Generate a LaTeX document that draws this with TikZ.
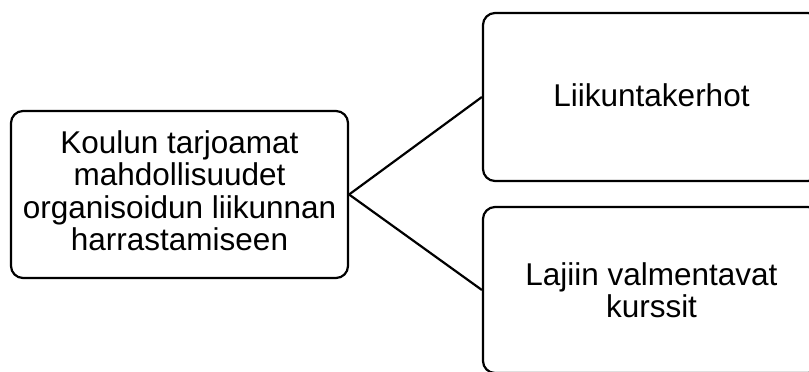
\documentclass[tikz,border=0pt]{standalone}
\usepackage{fontspec}
\setmainfont{Liberation Sans}
\begin{document}
\begin{tikzpicture}[x=1pt, y=-1pt,
  box/.style={draw=black, line width=2.2pt, rounded corners=12pt, fill=white,
    align=center, inner sep=0pt,
    font=\fontsize{31.5pt}{32.3pt}\selectfont},
  link/.style={draw=black, line width=2.2pt}]
  \useasboundingbox (0,0) rectangle (809,372);
  \clip (0,0) rectangle (809,372);
  \fill[white] (0,0) rectangle (809,372);

  % source box on the left
  \node[box, minimum width=337pt, minimum height=167pt, text depth=8pt]
    (school) at (179.5,194.5)
    {Koulun tarjoamat\\mahdollisuudet\\organisoidun liikunnan\\harrastamiseen};

  % two option boxes on the right (running past the right edge)
  \node[box, minimum width=337pt, minimum height=168pt, text depth=4pt]
    (clubs) at (651.5,97) {Liikuntakerhot};
  \node[box, minimum width=337pt, minimum height=166pt]
    (courses) at (651.5,290) {Lajiin valmentavat\\kurssit};

  % connectors
  \draw[link] (school.east) -- (clubs.west);
  \draw[link] (school.east) -- (courses.west);
\end{tikzpicture}
\end{document}
